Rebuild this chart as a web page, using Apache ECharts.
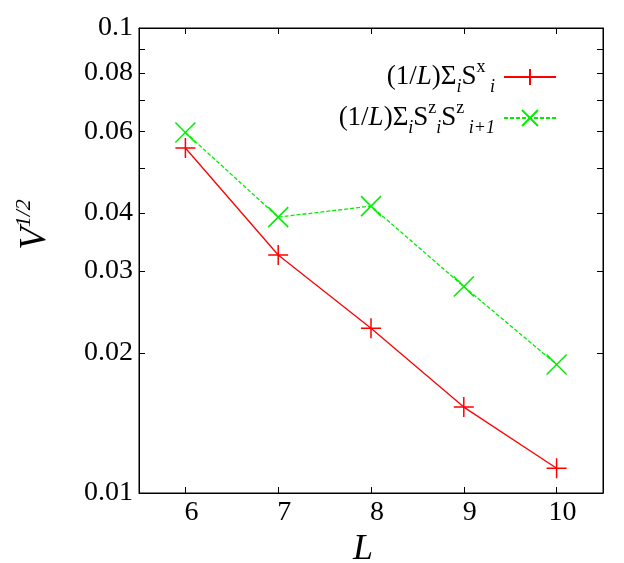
<!DOCTYPE html>
<html>
<head>
<meta charset="utf-8">
<script src="https://cdn.jsdelivr.net/npm/echarts@6/dist/echarts.min.js"></script>
<style>
  html, body { margin: 0; padding: 0; background: #fff; }
  #chart { width: 624px; height: 563px; }
</style>
</head>
<body>
<div id="chart"></div>
<script>
// 数据
const sizes = [6, 7, 8, 9, 10]
const sxValues = [0.0552, 0.0325, 0.0226, 0.0153, 0.0113]
const szzValues = [0.0596, 0.0392, 0.0414, 0.0278, 0.0189]
const xTicks = [6, 7, 8, 9, 10]
const yLabels = [0.01, 0.02, 0.03, 0.04, 0.06, 0.08, 0.1]
const yTicks = [0.01, 0.02, 0.03, 0.04, 0.05, 0.06, 0.07, 0.08, 0.09, 0.1]

const nameSx = 'sx'
const nameSzz = 'szz'
const legendText = {
  sx: '(1/{it|L})Σ{sub|i}S{sup|x}{sub| i}',
  szz: '(1/{it|L})Σ{sub|i}S{sup|z}{sub|i}S{sup|z}{sub| i+1}'
}

const FONT = 'Liberation Serif'
const plusPath = 'path://M0,10L20,10M10,0L10,20'
const crossPath = 'path://M0,0L20,20M20,0L0,20'
const green = '#00ee00'

const chart = echarts.init(document.getElementById('chart'))

const richText = {
  it: { fontFamily: FONT, fontSize: 27, fontStyle: 'italic', color: '#000', lineHeight: 38 },
  sub: { fontFamily: FONT, fontSize: 18, fontStyle: 'italic', color: '#000', verticalAlign: 'bottom', lineHeight: 38 },
  sup: { fontFamily: FONT, fontSize: 18, color: '#000', verticalAlign: 'top', lineHeight: 38 }
}

// 刻度文字用 rich 强制衬线字体
const numRich = { n: { fontFamily: FONT, fontSize: 28, color: '#000' } }

function makeLegend(name, top) {
  return {
    data: [name],
    right: 67,
    top: top,
    align: 'right',
    itemWidth: 52,
    itemHeight: 20,
    itemGap: 0,
    padding: 0,
    formatter: n => legendText[n],
    textStyle: {
      fontFamily: FONT,
      fontSize: 27,
      color: '#000',
      lineHeight: 38,
      padding: [0, 4, 0, 0],
      rich: richText
    }
  }
}

const tickStyle = { show: true, inside: true, length: 6, lineStyle: { color: '#000', width: 1 } }
const lineStyle = { show: true, lineStyle: { color: '#000', width: 1 } }

const option = {
  animation: false,
  backgroundColor: '#fff',
  textStyle: { fontFamily: FONT },
  grid: {
    left: 139, right: 21, top: 28, bottom: 70,
    containLabel: false, outerBoundsMode: 'none',
    show: true, borderColor: '#000', borderWidth: 1
  },
  legend: [makeLegend(nameSx, 58), makeLegend(nameSzz, 99)],
  xAxis: [
    {
      type: 'value',
      min: 5.5,
      max: 10.5,
      axisLine: lineStyle,
      axisTick: Object.assign({ customValues: xTicks }, tickStyle),
      axisLabel: {
        customValues: xTicks,
        fontFamily: FONT,
        fontSize: 28,
        color: '#000',
        margin: 6,
        padding: [0, 0, 0, 12],
        formatter: v => '{n|' + v + '}',
        rich: numRich
      },
      splitLine: { show: false },
      name: 'L',
      nameLocation: 'middle',
      nameGap: 38,
      nameTextStyle: {
        fontFamily: FONT, fontSize: 36, fontStyle: 'italic', color: '#000',
        padding: [0, 16, 0, 0]
      }
    },
    {
      type: 'value',
      position: 'top',
      min: 5.5,
      max: 10.5,
      axisLine: lineStyle,
      axisTick: Object.assign({ customValues: xTicks }, tickStyle),
      axisLabel: { show: false, customValues: xTicks },
      splitLine: { show: false }
    }
  ],
  yAxis: [
    {
      type: 'log',
      logBase: 10,
      min: 0.01,
      max: 0.1,
      axisLine: lineStyle,
      axisTick: Object.assign({ customValues: yTicks }, tickStyle),
      axisLabel: {
        customValues: yLabels,
        fontFamily: FONT,
        fontSize: 28,
        color: '#000',
        margin: 6,
        formatter: v => '{n|' + String(parseFloat(Number(v).toPrecision(1))) + '}',
        rich: numRich
      },
      splitLine: { show: false },
      minorTick: { show: false },
      name: '{v|V}{s|1/2}',
      nameLocation: 'middle',
      nameRotate: 90,
      nameGap: 82,
      nameTextStyle: {
        padding: [0, 0, 0, 72],
        rich: {
          v: { fontFamily: FONT, fontSize: 37, fontStyle: 'italic', color: '#000', lineHeight: 44 },
          s: { fontFamily: FONT, fontSize: 22, fontStyle: 'italic', color: '#000', verticalAlign: 'top', lineHeight: 44 }
        }
      }
    },
    {
      type: 'log',
      logBase: 10,
      position: 'right',
      min: 0.01,
      max: 0.1,
      axisLine: lineStyle,
      axisTick: Object.assign({ customValues: yTicks }, tickStyle),
      axisLabel: { show: false, customValues: yLabels },
      splitLine: { show: false }
    }
  ],
  series: [
    {
      name: nameSx,
      type: 'line',
      data: sizes.map((x, i) => [x, sxValues[i]]),
      symbol: plusPath,
      symbolSize: 20,
      lineStyle: { color: '#ff0000', width: 1.3 },
      itemStyle: { color: '#ff0000', borderColor: '#ff0000', borderWidth: 1.5 }
    },
    {
      name: nameSzz,
      type: 'line',
      data: sizes.map((x, i) => [x, szzValues[i]]),
      symbol: crossPath,
      symbolSize: 20,
      lineStyle: { color: green, width: 1.3, type: [4, 2] },
      itemStyle: { color: green, borderColor: green, borderWidth: 1.5 }
    }
  ]
}

chart.setOption(option)
</script>
</body>
</html>
